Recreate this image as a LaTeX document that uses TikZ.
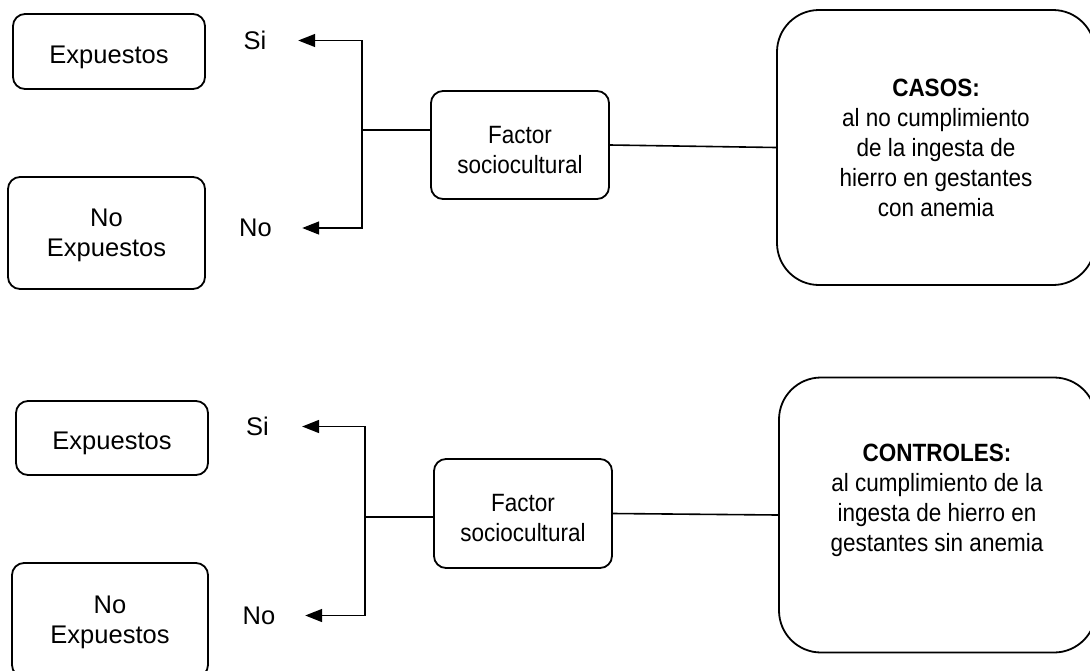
\documentclass[tikz,border=0pt]{standalone}
\usepackage{fontspec}
\setmainfont{Liberation Sans}
\newfontfamily\lfont{Liberation Sans}
\newfontfamily\rfont[FakeStretch=0.9]{Liberation Sans}
\usetikzlibrary{arrows.meta}
\begin{document}
\begin{tikzpicture}[x=1pt,y=-1pt]
\tikzset{
  sbox/.style={draw, line width=1.8pt, rounded corners=12pt, inner sep=0pt, align=center},
  bigbox/.style={draw, line width=1.8pt, rounded corners=42pt, inner sep=0pt, align=center},
  ltext/.style={font=\lfont\fontsize{25.5}{30}\selectfont},
  rtext/.style={font=\rfont\fontsize{25}{30}\selectfont},
  lbl/.style={ltext, inner sep=0pt},
  conn/.style={line width=1.6pt},
  arr/.style={conn, -{Triangle[length=17pt,width=13pt]}},
}
\useasboundingbox (0,0) rectangle (1090,670);
\clip (0,0) rectangle (1090,670);

% ---------- top section ----------
\node[sbox, ltext, minimum width=192pt, minimum height=75pt, text height=23pt, text depth=0pt] (e1) at (109,51.5) {Expuestos};
\node[sbox, ltext, minimum width=197pt, minimum height=112pt, text depth=0pt] (n1) at (106.5,233) {No\\Expuestos};
\node[lbl] (si1) at (255,40.5) {Si};
\node[lbl] (no1) at (255.5,228) {No};
\node[sbox, rtext, minimum width=178pt, minimum height=108pt, text height=56pt, text depth=0pt] (f1) at (520,145) {Factor\\sociocultural};
\node[bigbox, rtext, minimum width=318pt, minimum height=275pt] (casos) at (936,147.5)
  {\textbf{CASOS:}\\al no cumplimiento\\de la ingesta de\\hierro en gestantes\\con anemia};
\coordinate (j1) at (362,130);
\draw[conn] (j1) -- (j1 -| f1.west);
\draw[arr, shorten >=31.7pt] (j1) |- (si1.east);
\draw[arr, shorten >=30.2pt] (j1) |- (no1.east);
\draw[conn] (f1.east) -- (casos.west);

% ---------- bottom section ----------
\node[sbox, ltext, minimum width=192pt, minimum height=74pt, text height=23pt, text depth=0pt] (e2) at (112,438) {Expuestos};
\node[sbox, ltext, minimum width=196pt, minimum height=114pt, text depth=0pt] (n2) at (110,620) {No\\Expuestos};
\node[lbl] (si2) at (257.5,426.5) {Si};
\node[lbl] (no2) at (259,615.5) {No};
\node[sbox, rtext, minimum width=178pt, minimum height=109pt, text height=56pt, text depth=0pt] (f2) at (523,513.5) {Factor\\sociocultural};
\node[bigbox, minimum width=317pt, minimum height=275pt] (ctrl) at (937.5,515) {};
\node[rtext, align=center, inner sep=0pt] (ctrltext) at (937,500)
  {\textbf{CONTROLES:}\\al cumplimiento de la\\ingesta de hierro en\\gestantes sin anemia};
\coordinate (j2) at (365,517);
\draw[conn] (j2) -- (j2 -| f2.west);
\draw[arr, shorten >=33.1pt] (j2) |- (si2.east);
\draw[arr, shorten >=29.7pt] (j2) |- (no2.east);
\draw[conn] (f2.east) -- (ctrl.west);
\end{tikzpicture}
\end{document}
